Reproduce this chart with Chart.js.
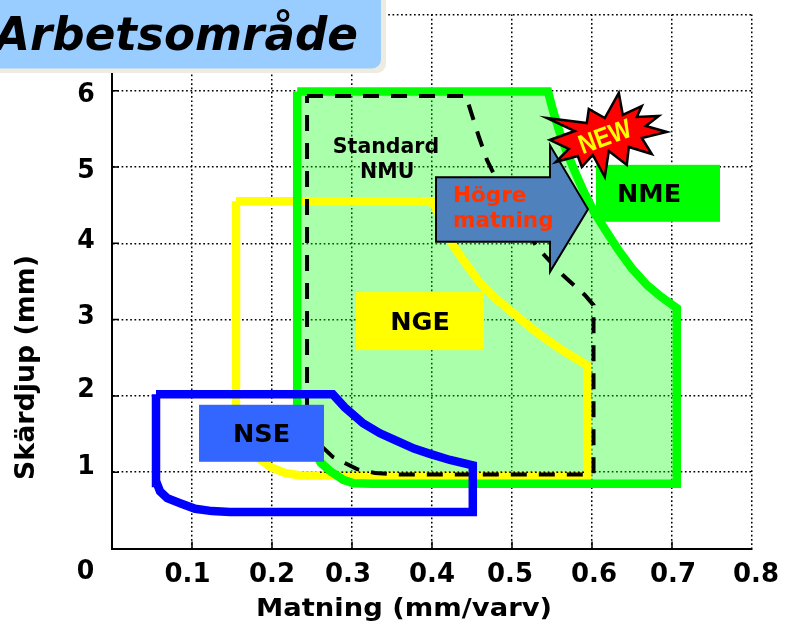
<!DOCTYPE html>
<html>
<head>
<meta charset="utf-8">
<style>
  html, body { margin: 0; padding: 0; background: #fff; overflow: hidden; }
  canvas { display: block; }
</style>
<script src="https://cdn.jsdelivr.net/npm/chart.js@4"></script>
</head>
<body>
<canvas id="chart" width="786" height="635"></canvas>
<script>
const greenX = [0.2315, 0.545, 0.551, 0.56, 0.569, 0.579, 0.59, 0.6025, 0.6175, 0.6325, 0.65, 0.669, 0.6875, 0.706, 0.706, 0.325, 0.302, 0.289, 0.282, 0.272, 0.261, 0.2315, 0.2315];
const greenY = [5.99, 5.99, 5.75, 5.44, 5.18, 4.93, 4.67, 4.41, 4.16, 3.92, 3.67, 3.45, 3.29, 3.15, 0.85, 0.85, 0.855, 0.9, 0.95, 1.02, 1.124, 1.7, 5.99];

const yellowX = [0.155, 0.4, 0.4075, 0.416, 0.426, 0.441, 0.46, 0.476, 0.494, 0.5125, 0.535, 0.564, 0.594, 0.594, 0.26, 0.235, 0.216, 0.1975, 0.1825, 0.17, 0.16, 0.155, 0.155];
const yellowY = [4.55, 4.55, 4.4, 4.2, 3.98, 3.75, 3.48, 3.31, 3.15, 2.99, 2.8, 2.59, 2.4, 0.956, 0.956, 0.956, 0.99, 1.07, 1.19, 1.33, 1.51, 1.68, 4.55];

const blueX = [0.055, 0.276, 0.291, 0.314, 0.335, 0.356, 0.3775, 0.3975, 0.4225, 0.451, 0.451, 0.1475, 0.125, 0.104, 0.086, 0.069, 0.06, 0.056, 0.055, 0.055];
const blueY = [2.02, 2.02, 1.85, 1.64, 1.51, 1.41, 1.31, 1.24, 1.16, 1.09, 0.48, 0.48, 0.49, 0.52, 0.59, 0.66, 0.75, 0.86, 0.92, 2.02];

const standardX = [0.2438, 0.4425, 0.45, 0.4588, 0.4688, 0.481, 0.531, 0.5638, 0.5913, 0.6019, 0.6019, 0.36, 0.3288, 0.3063, 0.291, 0.276, 0.26, 0.2438, 0.2438];
const standardY = [5.93, 5.93, 5.68, 5.39, 5.09, 4.83, 3.95, 3.58, 3.32, 3.19, 0.97, 0.97, 0.99, 1.04, 1.12, 1.2, 1.36, 1.68, 5.93];

// the y=1 gridline shows through the yellow band in the original
const gridOverX = [0.26, 0.59];
const gridOverY = [1, 1];

const xTicks = [0.1, 0.2, 0.3, 0.4, 0.5, 0.6, 0.7, 0.8];
const yTicks = [1, 2, 3, 4, 5, 6];
const xTickNudge = [-4.5, 0, -4, 0, -2, 2, 1, 4];
const yTickNudge = [-7.8, -8.5, -5.3, -5.7, 1.3, 1];

const toPoints = (xs, ys) => xs.map((x, i) => ({ x: x, y: ys[i] }));

const regionLabels = [
  { text: 'NME', x: 0.6825, y: 4.655, w: 124, h: 57, bg: '#00ff00', dx: -9 },
  { text: 'NGE', x: 0.385, y: 2.98, w: 128, h: 58, bg: '#ffff00', dx: 0 },
  { text: 'NSE', x: 0.1869, y: 1.51, w: 125, h: 57, bg: '#3366ff', dx: 0 }
];

// arrow and star outlines are px offsets from an anchor point in the chart
const arrowAnchor = { x: 0.5, y: 4.445 };
const arrowShape = [[-76, -32], [38, -32], [38, -64], [76, 0], [38, 62.5], [38, 32.5], [-76, 32.5]];
const starAnchor = { x: 0.616, y: 5.485 };
const starShape = [[-58, -12], [-18, -7], [-16, -21], [0, -12], [14, -37], [18, -15], [37, -24], [32, -13], [54, -14], [41, -4], [62, 2], [37, 8], [47, 24], [24, 17], [22, 35], [4, 21], [0, 47], [-12, 25], [-23, 37], [-27, 26], [-49, 32], [-36, 19], [-55, 10], [-30, 1]];

const FONT = '"DejaVu Sans"';

// the original type is a narrower face, so squeeze or stretch to the measured width
function fitText(ctx, text, cx, base, font, width, rot) {
  ctx.save();
  ctx.font = font;
  ctx.textAlign = 'center';
  ctx.textBaseline = 'alphabetic';
  ctx.translate(cx, base);
  if (rot) ctx.rotate(rot);
  ctx.scale(width / ctx.measureText(text).width, 1);
  ctx.fillText(text, 0, 0);
  ctx.restore();
}

function polygon(ctx, cx, cy, shape) {
  ctx.beginPath();
  shape.forEach((p, i) => i ? ctx.lineTo(cx + p[0], cy + p[1]) : ctx.moveTo(cx + p[0], cy + p[1]));
  ctx.closePath();
}

const overlays = {
  id: 'overlays',
  afterDatasetsDraw(chart) {
    const { ctx, scales: { x, y } } = chart;
    ctx.save();

    // small inward tick marks on both axes
    ctx.strokeStyle = '#000';
    ctx.lineWidth = 1.5;
    ctx.beginPath();
    xTicks.slice(0, 7).forEach(v => {
      const px = x.getPixelForValue(v);
      ctx.moveTo(px, y.bottom);
      ctx.lineTo(px, y.bottom - 7);
    });
    yTicks.forEach(v => {
      const py = y.getPixelForValue(v);
      ctx.moveTo(x.left, py);
      ctx.lineTo(x.left + 7, py);
    });
    ctx.stroke();

    ctx.textBaseline = 'alphabetic';
    ctx.textAlign = 'center';

    regionLabels.forEach(l => {
      const cx = x.getPixelForValue(l.x);
      const cy = y.getPixelForValue(l.y);
      ctx.fillStyle = l.bg;
      ctx.fillRect(cx - l.w / 2, cy - l.h / 2, l.w, l.h);
      ctx.fillStyle = '#000';
      ctx.font = 'bold 25.5px ' + FONT;
      ctx.fillText(l.text, cx + l.dx, cy + 8.5);
    });

    ctx.font = 'bold 20.5px ' + FONT;
    ctx.fillText('Standard', x.getPixelForValue(0.3425), y.getPixelForValue(5.18));
    ctx.fillText('NMU', x.getPixelForValue(0.344), y.getPixelForValue(4.85));

    // arrow
    const ax = x.getPixelForValue(arrowAnchor.x);
    const ay = y.getPixelForValue(arrowAnchor.y);
    polygon(ctx, ax, ay, arrowShape);
    ctx.fillStyle = '#4f81bd';
    ctx.fill();
    ctx.strokeStyle = '#000';
    ctx.lineWidth = 2;
    ctx.stroke();
    ctx.fillStyle = '#ff3300';
    ctx.font = 'bold 21.5px ' + FONT;
    ctx.textAlign = 'left';
    ctx.fillText('Högre', ax - 59, ay - 7.6);
    ctx.fillText('matning', ax - 59, ay + 17.4);

    // NEW burst
    const sx = x.getPixelForValue(starAnchor.x);
    const sy = y.getPixelForValue(starAnchor.y);
    polygon(ctx, sx, sy, starShape);
    ctx.fillStyle = '#ff0000';
    ctx.fill();
    ctx.lineWidth = 2.5;
    ctx.stroke();
    ctx.fillStyle = '#ffff00';
    fitText(ctx, 'NEW', sx + 3, sy + 15, 'bold 27px "Liberation Sans"', 54, -20 * Math.PI / 180);

    // tick labels, hand nudged like the original
    ctx.fillStyle = '#000';
    const tickFont = 'bold 27px ' + FONT;
    xTicks.forEach((v, i) => fitText(ctx, v.toFixed(1), x.getPixelForValue(v) + xTickNudge[i], 581.5, tickFont, 46));
    fitText(ctx, '0', 85.5, 579.3, tickFont, 17.5);
    yTicks.forEach((v, i) => fitText(ctx, String(v), 86, y.getPixelForValue(v) + yTickNudge[i] + 10, tickFont, 17.5));

    // axis titles
    fitText(ctx, 'Matning (mm/varv)', 404, 615.7, 'bold 25px ' + FONT, 296);
    fitText(ctx, 'Skärdjup (mm)', 34.3, 367.5, 'bold 27px ' + FONT, 225, -Math.PI / 2);

    // title plate, cut by the top left of the slide
    ctx.fillStyle = '#eeece1';
    ctx.beginPath();
    ctx.roundRect(-30, -30, 416, 103, 9);
    ctx.fill();
    ctx.fillStyle = '#99ccff';
    ctx.beginPath();
    ctx.roundRect(-30, -30, 411, 98.5, 9);
    ctx.fill();
    ctx.fillStyle = '#000';
    fitText(ctx, 'Arbetsområde', 176.5, 50, 'italic bold 47px ' + FONT, 363);

    ctx.restore();
  }
};

const line = (points, color, width, extra) => Object.assign({
  data: points,
  borderColor: color,
  borderWidth: width,
  pointRadius: 0,
  showLine: true,
  tension: 0,
  fill: false
}, extra);

const axisGrid = { color: '#000', lineWidth: 1.5, drawTicks: false };
const axisBorder = { color: '#000', width: 2, dash: [1.7, 2.6] };

new Chart(document.getElementById('chart'), {
  type: 'scatter',
  data: {
    datasets: [
      line(toPoints(greenX, greenY), 'rgba(0,0,0,0)', 0, { fill: 'shape', backgroundColor: 'rgba(0,255,0,0.333)', order: 6 }),
      line(toPoints(yellowX, yellowY), '#ffff00', 8.5, { order: 5 }),
      line(toPoints(gridOverX, gridOverY), '#000', 1.5, { borderDash: [1.7, 2.6], order: 4 }),
      line(toPoints(greenX, greenY), '#00ff00', 8.5, { order: 3 }),
      line(toPoints(standardX, standardY), '#000', 4, { borderDash: [16, 12], order: 2 }),
      line(toPoints(blueX, blueY), '#0000ff', 8.5, { order: 1 })
    ]
  },
  options: {
    responsive: false,
    animation: false,
    layout: { padding: { left: 112, right: 34, top: 14.4, bottom: 86.5 } },
    plugins: { legend: { display: false }, tooltip: { enabled: false } },
    scales: {
      x: {
        type: 'linear',
        min: 0,
        max: 0.8,
        ticks: { display: false, stepSize: 0.1 },
        grid: axisGrid,
        border: axisBorder
      },
      y: {
        min: 0,
        max: 7,
        ticks: { display: false, stepSize: 1 },
        grid: axisGrid,
        border: axisBorder
      }
    }
  },
  plugins: [overlays]
});
</script>
</body>
</html>
